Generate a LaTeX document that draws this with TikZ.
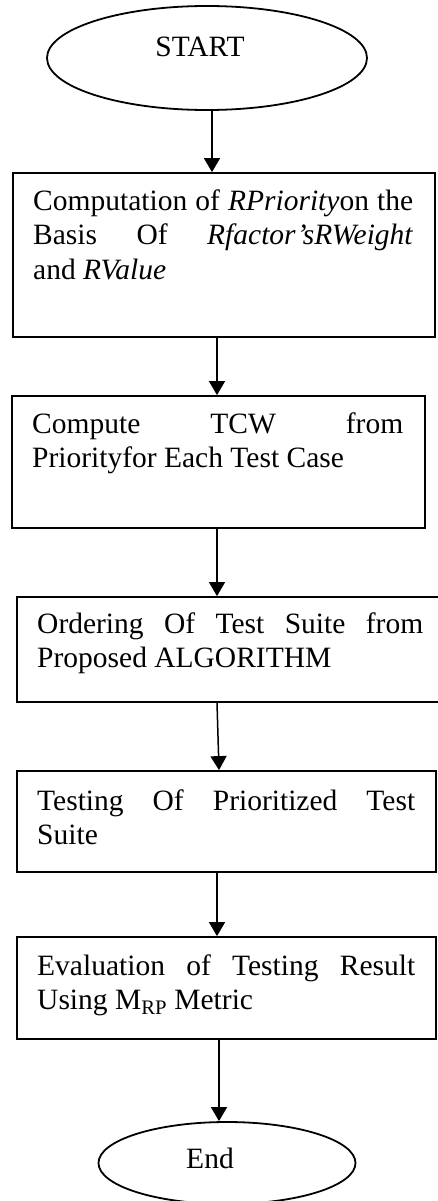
\documentclass[tikz,border=0pt]{standalone}
\usepackage{fontspec}
\setmainfont{Liberation Serif}
\usetikzlibrary{arrows.meta,shapes.geometric}

% forced line breaks stretch the justified lines a lot; keep the log quiet
\hbadness=10000
\tolerance=9999

\tikzset{
  terminal/.style={draw, ellipse, line width=1.8pt, inner sep=0pt},
  stepbox/.style={draw, rectangle, line width=1.8pt, inner sep=0pt},
  steptext/.style={anchor=base west, inner sep=0pt, align=justify,
    font=\fontsize{29.5}{34.5}\selectfont},
  termtext/.style={anchor=base, inner sep=0pt, font=\fontsize{29.5}{34.5}\selectfont},
  flow/.style={line width=1.5pt, -{Triangle[width=16pt,length=14pt]}},
}

\begin{document}
\begin{tikzpicture}[x=1pt, y=-1pt]
  \useasboundingbox (0,0) rectangle (438,1201);

  % terminals
  \node[terminal, minimum width=320pt, minimum height=104pt] (start) at (207,58) {};
  \node[termtext] (startlbl) at (200,57) {START};
  \node[terminal, minimum width=257pt, minimum height=82pt] (stop) at (227,1163) {};
  \node[termtext] (stoplbl) at (210,1168) {End};

  % process boxes
  \node[stepbox, minimum width=422pt, minimum height=164pt] (b1) at (224,255) {};
  \node[stepbox, minimum width=413pt, minimum height=132pt] (b2) at (218.5,462) {};
  \node[stepbox, minimum width=425pt, minimum height=105pt] (b3) at (229.5,649.5) {};
  \node[stepbox, minimum width=419pt, minimum height=101pt] (b4) at (226.5,821.5) {};
  \node[stepbox, minimum width=419pt, minimum height=102pt] (b5) at (226.5,988) {};

  % box texts
  \node[steptext, text width=380pt] (t1) at (33,210)
    {Computation of \textit{RPriority}on the\linebreak
     Basis Of \textit{Rfactor’sRWeight}\linebreak
     and \textit{RValue}};
  \node[steptext, text width=371pt] (t2) at (32,433)
    {Compute TCW from\linebreak Priorityfor Each Test Case};
  \node[steptext, text width=386pt] (t3) at (37,633)
    {Ordering Of Test Suite from\linebreak Proposed ALGORITHM};
  \node[steptext, text width=378pt] (t4) at (37,810)
    {Testing Of Prioritized Test\linebreak Suite};
  \node[steptext, text width=378pt] (t5) at (37,975)
    {Evaluation of Testing Result\linebreak Using M\textsubscript{RP} Metric};

  % connectors
  \draw[flow] ([xshift=5pt]start.south) -- ([xshift=5pt]start.south |- b1.north);
  \draw[flow] ([xshift=-7pt]b1.south) -- ([xshift=-7pt]b1.south |- b2.north);
  \draw[flow] ([xshift=-1.5pt]b2.south) -- ([xshift=-1.5pt]b2.south |- b3.north);
  \draw[flow] ([xshift=-12.5pt]b3.south) -- ([xshift=-7.5pt]b4.north);
  \draw[flow] ([xshift=-9.5pt]b4.south) -- ([xshift=-9.5pt]b5.north);
  \draw[flow] ([xshift=-7.5pt]b5.south) -- ([xshift=-7.5pt]b5.south |- stop.north);
\end{tikzpicture}
\end{document}
